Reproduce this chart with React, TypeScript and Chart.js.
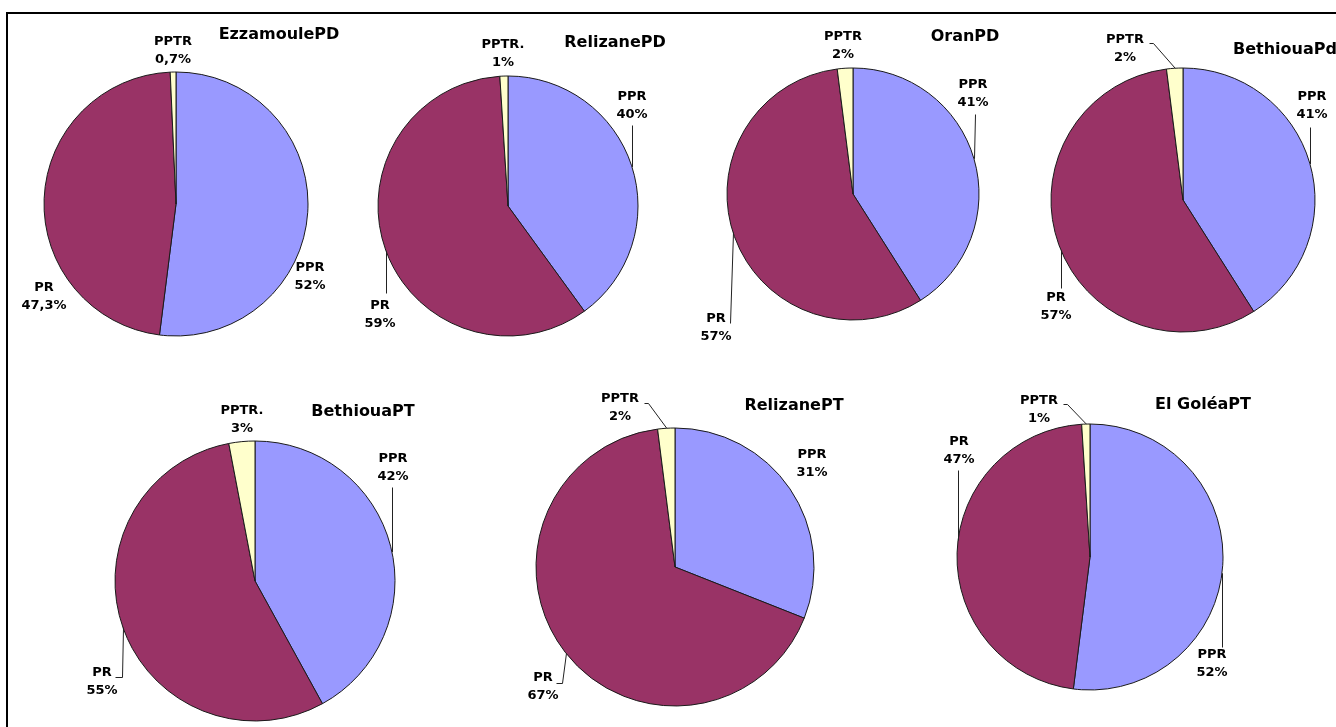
import React, { useEffect, useRef } from 'react';
import { Chart, registerables } from 'chart.js';

Chart.register(...registerables);

// Share of each category per site
const categories = ['PPR', 'PR', 'PPTR'];
const chartTitles = ['EzzamoulePD', 'RelizanePD', 'OranPD', 'BethiouaPd', 'BethiouaPT', 'RelizanePT', 'El GoléaPT'];
const pprValues = [52, 40, 41, 41, 42, 31, 52];
const prValues = [47.3, 59, 57, 57, 55, 67, 47];
const pptrValues = [0.7, 1, 2, 2, 3, 2, 1];
// the third category is written with a trailing dot on some panels
const pptrNames = ['PPTR', 'PPTR.', 'PPTR', 'PPTR', 'PPTR.', 'PPTR', 'PPTR'];

const sliceColors = ['#9999FF', '#993366', '#FFFFCC'];

const W = 1336;
const H = 727;

type Leader = { pts: number[][]; mode: 'v' | 'mid'; endX?: number } | null;
type PieLayout = {
  cx: number;
  cy: number;
  r: number;
  title: number[];
  labels: number[][];
  leaders: Leader[];
};

// Placement of each pie, its title and its slice labels (order: PPR, PR, PPTR)
const layouts: PieLayout[] = [
  {
    cx: 176, cy: 204, r: 132, title: [279, 35],
    labels: [[310, 268], [44, 288], [173, 42]],
    leaders: [null, null, null],
  },
  {
    cx: 508, cy: 206, r: 130, title: [615, 43],
    labels: [[632, 97], [380, 306], [503, 45]],
    leaders: [{ pts: [[632, 125]], mode: 'v' }, { pts: [[386, 293]], mode: 'v' }, null],
  },
  {
    cx: 853, cy: 194, r: 126, title: [965, 37],
    labels: [[973, 85], [716, 319], [843, 37]],
    leaders: [{ pts: [[975, 114]], mode: 'v', endX: 974 }, { pts: [[730, 323]], mode: 'v', endX: 733 }, null],
  },
  {
    cx: 1183, cy: 200, r: 132, title: [1285, 50],
    labels: [[1312, 97], [1056, 298], [1125, 40]],
    leaders: [
      { pts: [[1310, 127]], mode: 'v' },
      { pts: [[1061, 288]], mode: 'v' },
      { pts: [[1149, 43], [1153, 43]], mode: 'mid' },
    ],
  },
  {
    cx: 255, cy: 581, r: 140, title: [363, 412],
    labels: [[393, 459], [102, 673], [242, 411]],
    leaders: [
      { pts: [[392, 487]], mode: 'v' },
      { pts: [[115, 677], [122, 677]], mode: 'v', endX: 123 },
      null,
    ],
  },
  {
    cx: 675, cy: 567, r: 139, title: [794, 406],
    labels: [[812, 455], [543, 678], [620, 399]],
    leaders: [
      null,
      { pts: [[556, 683], [562, 683]], mode: 'v', endX: 566 },
      { pts: [[644, 403], [648, 403]], mode: 'mid' },
    ],
  },
  {
    cx: 1090, cy: 557, r: 133, title: [1203, 405],
    labels: [[1212, 655], [959, 442], [1039, 401]],
    leaders: [
      { pts: [[1222, 647]], mode: 'v' },
      { pts: [[958, 470]], mode: 'v' },
      { pts: [[1063, 404], [1067, 404]], mode: 'mid' },
    ],
  },
];

const fmtPct = (v: number) => String(v).replace('.', ',') + '%';

const FONT_FAMILY = '"DejaVu Sans", "Liberation Sans", sans-serif';

// Draws leader lines, slice labels and the panel title for one pie
function makeLabelPlugin(lay: PieLayout, title: string) {
  return {
    id: 'sliceLabels',
    afterDatasetsDraw(chart: any) {
      const { ctx } = chart;
      const meta = chart.getDatasetMeta(0);
      const values = chart.data.datasets[0].data as number[];
      const names = chart.data.labels as string[];
      ctx.save();

      ctx.strokeStyle = '#222222';
      ctx.lineWidth = 1;
      meta.data.forEach((arc: any, i: number) => {
        const ld = lay.leaders[i];
        if (!ld) return;
        const p = arc.getProps(['x', 'y', 'startAngle', 'endAngle', 'outerRadius'], true);
        let ex: number;
        let ey: number;
        if (ld.mode === 'mid') {
          const a = (p.startAngle + p.endAngle) / 2;
          ex = p.x + p.outerRadius * Math.cos(a);
          ey = p.y + p.outerRadius * Math.sin(a);
        } else {
          const last = ld.pts[ld.pts.length - 1];
          ex = ld.endX ?? last[0];
          const dx = ex - p.x;
          const dy = Math.sqrt(Math.max(0, p.outerRadius * p.outerRadius - dx * dx));
          ey = last[1] < p.y ? p.y - dy : p.y + dy;
        }
        ctx.beginPath();
        ld.pts.forEach((pt, k) => {
          if (k === 0) ctx.moveTo(pt[0] + 0.5, pt[1] + 0.5);
          else ctx.lineTo(pt[0] + 0.5, pt[1] + 0.5);
        });
        ctx.lineTo(ex + 0.5, ey);
        ctx.stroke();
      });

      ctx.fillStyle = '#000000';
      ctx.textAlign = 'center';
      ctx.textBaseline = 'middle';
      ctx.font = `bold 13px ${FONT_FAMILY}`;
      names.forEach((name, i) => {
        const [lx, ly] = lay.labels[i];
        ctx.fillText(name, lx, ly);
        ctx.fillText(fmtPct(values[i]), lx, ly + 18);
      });

      ctx.font = `bold 16px ${FONT_FAMILY}`;
      ctx.fillText(title, lay.title[0], lay.title[1]);
      ctx.restore();
    },
  };
}

function PiePanel({ idx }: { idx: number }) {
  const ref = useRef<HTMLCanvasElement | null>(null);

  useEffect(() => {
    if (!ref.current) return;
    const lay = layouts[idx];
    const names = [categories[0], categories[1], pptrNames[idx]];
    const chart = new Chart(ref.current, {
      type: 'pie',
      data: {
        labels: names,
        datasets: [
          {
            data: [pprValues[idx], prValues[idx], pptrValues[idx]],
            backgroundColor: sliceColors,
            borderColor: '#1a1a1a',
            borderWidth: 1,
            radius: lay.r,
          } as any,
        ],
      },
      options: {
        responsive: false,
        animation: false,
        events: [],
        layout: {
          padding: {
            left: lay.cx - lay.r,
            right: W - (lay.cx + lay.r),
            top: lay.cy - lay.r,
            bottom: H - (lay.cy + lay.r),
          },
        },
        plugins: {
          legend: { display: false },
          tooltip: { enabled: false },
          title: { display: false },
        },
      },
      plugins: [makeLabelPlugin(lay, chartTitles[idx])],
    });
    return () => chart.destroy();
  }, [idx]);

  return (
    <canvas
      ref={ref}
      width={W}
      height={H}
      style={{ position: 'absolute', left: 0, top: 0, width: W, height: H }}
    />
  );
}

export default function App() {
  return (
    <div
      style={{
        position: 'fixed',
        left: 0,
        top: 0,
        width: W,
        height: H,
        background: '#ffffff',
        overflow: 'hidden',
      }}
    >
      <div
        style={{
          position: 'absolute',
          left: 6,
          top: 12,
          width: 2000,
          height: 2000,
          borderLeft: '2px solid #000',
          borderTop: '2px solid #000',
        }}
      />
      {chartTitles.map((_, i) => (
        <PiePanel key={i} idx={i} />
      ))}
    </div>
  );
}
